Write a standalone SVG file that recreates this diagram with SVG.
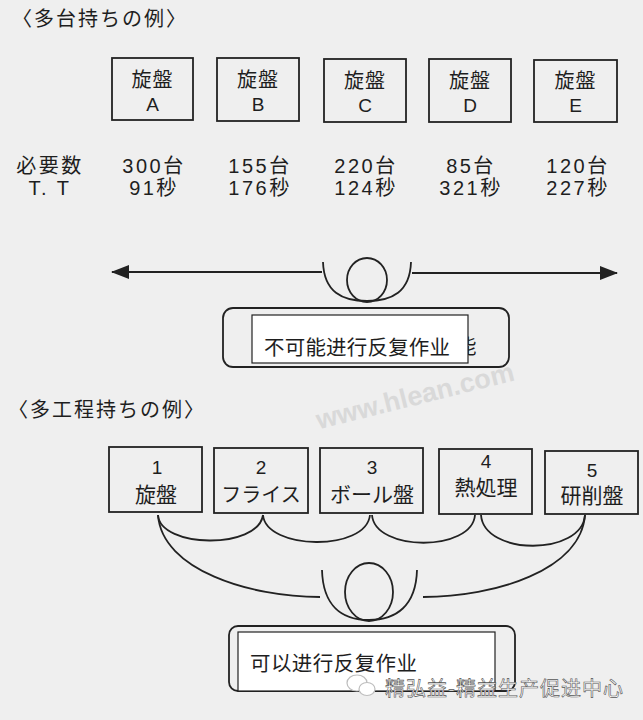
<svg xmlns="http://www.w3.org/2000/svg" width="643" height="720" viewBox="0 0 643 720">
<style>
.bg{fill:#efefef}
.box{fill:none;stroke:#222;stroke-width:1.8}
.t{font-family:"Noto Sans CJK JP","Liberation Sans",sans-serif;fill:#1e1e1e;text-anchor:middle;dominant-baseline:central}
.l{font-family:"Liberation Sans","Noto Sans CJK JP",sans-serif;fill:#1e1e1e;text-anchor:middle;dominant-baseline:central}
.title{font-family:"Noto Sans CJK JP","Liberation Sans",sans-serif;fill:#1e1e1e;font-size:20px;letter-spacing:2px;dominant-baseline:central}
.num{font-size:20px;letter-spacing:2.5px}
.ln{fill:none;stroke:#222;stroke-width:1.8}
.lbl{font-family:"Noto Sans CJK SC","Liberation Sans",sans-serif;fill:#1e1e1e;font-size:20.5px;dominant-baseline:central}
</style>
<defs>
<marker id="ah" viewBox="0 0 18 14" refX="17" refY="7" markerWidth="18" markerHeight="14" markerUnits="userSpaceOnUse" orient="auto">
<path d="M0,0 L18,7 L0,14 Z" fill="#222"/>
</marker>
</defs>
<rect class="bg" x="0" y="0" width="643" height="720"/>

<text class="title" x="12" y="17">〈多台持ちの例〉</text>

<g id="lathe-a"><rect class="box" x="112" y="58" width="81" height="62"/><text class="t" x="152.5" y="78" font-size="20" letter-spacing="1">旋盤</text><text class="l" x="152.5" y="104" font-size="19">A</text></g>
<g id="lathe-b"><rect class="box" x="217" y="58" width="82" height="63"/><text class="t" x="258" y="78" font-size="20" letter-spacing="1">旋盤</text><text class="l" x="258" y="104" font-size="19">B</text></g>
<g id="lathe-c"><rect class="box" x="324" y="59" width="82" height="63"/><text class="t" x="365" y="79" font-size="20" letter-spacing="1">旋盤</text><text class="l" x="365" y="105" font-size="19">C</text></g>
<g id="lathe-d"><rect class="box" x="429" y="59" width="82" height="63"/><text class="t" x="470" y="79" font-size="20" letter-spacing="1">旋盤</text><text class="l" x="470" y="105" font-size="19">D</text></g>
<g id="lathe-e"><rect class="box" x="534" y="60" width="83" height="62"/><text class="t" x="575.5" y="79" font-size="20" letter-spacing="1">旋盤</text><text class="l" x="575.5" y="105" font-size="19">E</text></g>

<g id="table">
<text class="l num" x="50" y="166">必要数</text>
<text class="l num" x="50" y="188">T. T</text>
<text class="l num" x="154" y="166">300台</text>
<text class="l num" x="154" y="188">91秒</text>
<text class="l num" x="260" y="166">155台</text>
<text class="l num" x="260" y="188">176秒</text>
<text class="l num" x="366" y="166">220台</text>
<text class="l num" x="366" y="188">124秒</text>
<text class="l num" x="471" y="166">85台</text>
<text class="l num" x="471" y="188">321秒</text>
<text class="l num" x="578" y="166">120台</text>
<text class="l num" x="578" y="188">227秒</text>
</g>

<g id="connectors">
<path class="ln" d="M322,272 L112,272" marker-end="url(#ah)"/>
<path class="ln" d="M412,273 L617,273" marker-end="url(#ah)"/>
<path class="ln" d="M323,262 C324,292 342,301 367,301 C392,301 410,292 411,262"/>
<ellipse class="ln" cx="367" cy="280" rx="20" ry="22"/>

<path class="ln" d="M158,515 C160,548 258,550 263,515"/>
<path class="ln" d="M263,515 C266,550 366,552 370,515"/>
<path class="ln" d="M372,515 C375,552 472,552 475,515"/>
<path class="ln" d="M481,515 C484,556 582,556 585,515"/>
<path class="ln" d="M158,515 C162,570 250,597 320,597"/>
<path class="ln" d="M585,515 C581,570 495,597 423,597"/>
<path class="ln" d="M322,570 C323,606 342,620 369,620 C396,620 416,606 417,570"/>
<ellipse class="ln" cx="369" cy="592" rx="24" ry="29"/>
</g>

<g id="label-no">
<rect x="223" y="308" width="286" height="59" rx="10" fill="none" stroke="#222" stroke-width="1.8"/>
<text class="lbl" x="456" y="345">能</text>
<rect x="252" y="315" width="216" height="48" fill="#fff" stroke="#222" stroke-width="1.2"/>
<text class="lbl" x="264" y="346" textLength="186">不可能进行反复作业</text>
</g>

<text x="415" y="396" transform="rotate(-14 415 396)" font-family="'Liberation Sans',sans-serif" font-weight="bold" font-size="27" fill="#d9d9d9" text-anchor="middle" dominant-baseline="central">www.hlean.com</text>

<text class="title" x="8" y="408">〈多工程持ちの例〉</text>

<g id="p1"><rect class="box" x="109" y="447" width="93" height="65"/><text class="l" x="157" y="467" font-size="19">1</text><text class="t" x="156" y="493" font-size="21">旋盤</text></g>
<g id="p2"><rect class="box" x="214" y="448" width="94" height="65"/><text class="l" x="261" y="467" font-size="19">2</text><text class="t" x="261" y="493" font-size="20">フライス</text></g>
<g id="p3"><rect class="box" x="320" y="448" width="103" height="65"/><text class="l" x="372" y="467" font-size="19">3</text><text class="t" x="372" y="493" font-size="21">ボール盤</text></g>
<g id="p4"><rect class="box" x="439" y="449" width="93" height="65"/><text class="l" x="486" y="461" font-size="19">4</text><text class="t" x="486" y="486" font-size="21">熱処理</text></g>
<g id="p5"><rect class="box" x="545" y="451" width="93" height="63"/><text class="l" x="592" y="470" font-size="19">5</text><text class="t" x="592" y="494" font-size="21">研削盤</text></g>

<g id="label-yes">
<rect x="229" y="626" width="286" height="65" rx="9" fill="none" stroke="#222" stroke-width="1.8"/>
<rect x="238" y="632" width="257" height="59" fill="#fff" stroke="#222" stroke-width="1.2"/>
<text class="lbl" x="250" y="662" textLength="167">可以进行反复作业</text>
</g>

<g id="watermark">
<ellipse cx="357" cy="683" rx="10" ry="8" fill="#fff" stroke="#bdbdbd" stroke-width="1.2"/>
<ellipse cx="367" cy="689" rx="8" ry="6.5" fill="#fff" stroke="#bdbdbd" stroke-width="1.2"/>
<text x="385" y="687" font-family="'Noto Sans CJK SC',sans-serif" font-size="20" fill="#fff" stroke="#555" stroke-width="0.6" dominant-baseline="central" textLength="238">精弘益-精益生产促进中心</text>
</g>
</svg>
